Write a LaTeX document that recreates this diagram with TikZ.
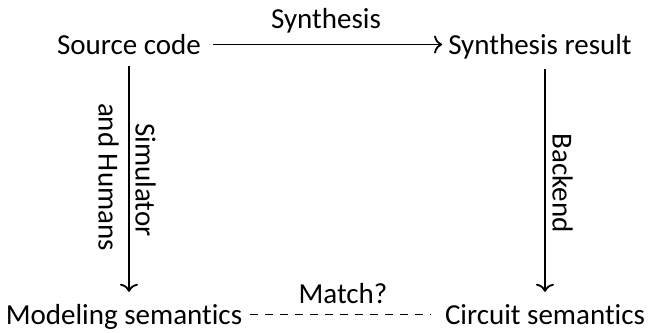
\documentclass[tikz,border=0pt]{standalone}
\usepackage{fontspec}
\setmainfont[RawFeature=-liga]{Carlito}
\usetikzlibrary{arrows.meta}
\tikzset{
  lbl/.style={font=\fontsize{29}{34}\selectfont, inner sep=0pt, text height=22pt, text depth=3pt},
  arr/.style={line width=1.8pt, -{To[length=8pt,width=18pt]}},
  dsh/.style={line width=1.8pt, dash pattern=on 8pt off 7pt},
}
\begin{document}
\begin{tikzpicture}[x=1pt,y=1pt]
\useasboundingbox (0,0) rectangle (653,-332);
\node[lbl] (src) at (129,-44.5) {Source code};
\node[lbl] (res) at (540,-44.5) {Synthesis result};
\node[lbl] (mod) at (124,-314.5) {Modeling semantics};
\node[lbl] (cir) at (545,-314.5) {Circuit semantics};
\node[lbl] (syn) at (326,-18.5) {Synthesis};
\node[lbl] (mat) at (343,-293.5) {Match?};
\node[lbl, rotate=-90] (sim) at (145,-180) {Simulator};
\node[lbl, rotate=-90] (hum) at (108,-177) {and Humans};
\node[lbl, rotate=-90] (bck) at (562,-183) {Backend};
\draw[arr, shorten <=12pt, shorten >=6pt] (src.east) -- (res.west);
\draw[arr, shorten <=9pt, shorten >=10pt] (src.south) -- (src.south |- mod.north);
\draw[arr, shorten <=12pt, shorten >=10pt] (cir.north |- res.south) -- (cir.north);
\draw[dsh, shorten <=8pt, shorten >=14pt] (mod.east) -- (cir.west);
\end{tikzpicture}
\end{document}
